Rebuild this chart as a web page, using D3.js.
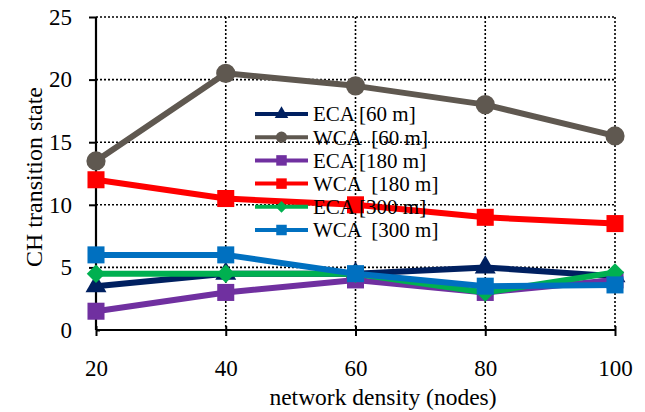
<!DOCTYPE html>
<html><head><meta charset="utf-8">
<script src="https://cdn.jsdelivr.net/npm/d3@7"></script>
<style>body{margin:0;background:#fff}svg{display:block}text{font-family:"Liberation Serif","Times New Roman",serif;fill:#000}</style>
</head><body><svg id="c" width="645" height="412"></svg>
<script>
const xValues = [20, 40, 60, 80, 100];
const yTicks = [0, 5, 10, 15, 20, 25];
const seriesNames = ["ECA [60 m]", "WCA  [60 m]", "ECA [180 m]", "WCA  [180 m]", "ECA [300 m]", "WCA  [300 m]"];
const eca60  = [3.5, 4.5, 4.5, 5.0, 4.3];
const wca60  = [13.5, 20.5, 19.5, 18.0, 15.5];
const eca180 = [1.5, 3.0, 4.0, 3.0, 4.0];
const wca180 = [12.0, 10.5, 10.0, 9.0, 8.5];
const eca300 = [4.5, 4.5, 4.5, 3.0, 4.6];
const wca300 = [6.0, 6.0, 4.5, 3.5, 3.6];
const seriesValues = [eca60, wca60, eca180, wca180, eca300, wca300];
const colors = ["#002060", "#5F5850", "#7030A0", "#FF0000", "#00B050", "#0070C0"];
const shapes = ["triangle", "circle", "square", "square", "diamond", "square"];

const svg = d3.select("#c");
const L = 96, R = 615, T = 17, B = 330;
const x = d3.scaleLinear().domain([20, 100]).range([L, R]);
const y = d3.scaleLinear().domain([0, 25]).range([B, T]);

// grid
const g = svg.append("g");
g.selectAll(".hg").data(yTicks.filter(d => d > 0)).enter().append("line")
  .attr("x1", L).attr("x2", R).attr("y1", d => y(d)).attr("y2", d => y(d))
  .attr("stroke", "#000").attr("stroke-width", 1.6).attr("stroke-dasharray", "2,2");
g.selectAll(".vg").data(xValues.filter(d => d > 20)).enter().append("line")
  .attr("y1", T).attr("y2", B).attr("x1", d => x(d)).attr("x2", d => x(d))
  .attr("stroke", "#000").attr("stroke-width", 1.6).attr("stroke-dasharray", "2,2");

// axes
const yAxis = d3.axisLeft(y).tickValues(yTicks).tickSize(7).tickPadding(17);
const xAxis = d3.axisBottom(x).tickValues(xValues).tickSize(6).tickPadding(24);
const ya = svg.append("g").attr("transform", `translate(${L},0)`).call(yAxis);
const xa = svg.append("g").attr("transform", `translate(0,${B})`).call(xAxis);
[ya, xa].forEach(a => {
  a.select(".domain").attr("stroke", "#000").attr("stroke-width", 2.2);
  a.selectAll(".tick line").attr("stroke", "#000").attr("stroke-width", 2);
  a.selectAll("text").style("font-size", "23px").attr("font-family", "Liberation Serif");
});
ya.select(".domain").attr("d", `M0,${B}V${T}`);
xa.select(".domain").attr("d", `M${L},0H${R}`);
xa.selectAll(".tick line").attr("y1", -4);
ya.selectAll(".tick").filter(d => d === 0).select("line").attr("x2", 4);

// axis titles
svg.append("text").attr("x", 383).attr("y", 405).attr("text-anchor", "middle")
  .style("font-size", "23.5px").text("network density (nodes)");
svg.append("text").attr("transform", "translate(42,177) rotate(-90)").attr("text-anchor", "middle")
  .style("font-size", "24px").text("CH transition state");

function sym(shape, size) {
  if (shape === "circle") return d3.symbol(d3.symbolCircle, size)();
  if (shape === "triangle") return d3.symbol(d3.symbolTriangle, size)();
  return d3.symbol(d3.symbolSquare, size)();
}
const sizes = {circle: 290, triangle: 190, square: 290, diamond: 170};

const line = d3.line().x((d, i) => x(xValues[i])).y(d => y(d));
seriesValues.forEach((vals, si) => {
  const sg = svg.append("g");
  sg.append("path").datum(vals).attr("d", line).attr("fill", "none")
    .attr("stroke", colors[si]).attr("stroke-width", 6).attr("stroke-linejoin", "round");
  sg.selectAll("path.m").data(vals).enter().append("path").attr("class", "m")
    .attr("d", sym(shapes[si], sizes[shapes[si]]))
    .attr("transform", (d, i) => `translate(${x(xValues[i])},${y(d)})` + (shapes[si] === "diamond" ? " rotate(45)" : ""))
    .attr("fill", colors[si]);
});

// legend
const lg = svg.append("g");
const ly0 = 114, ldy = 23.2;
seriesNames.forEach((name, i) => {
  const yy = ly0 + i * ldy;
  lg.append("line").attr("x1", 255).attr("x2", 308).attr("y1", yy).attr("y2", yy)
    .attr("stroke", colors[i]).attr("stroke-width", 4);
  const sz = {circle: 100, triangle: 80, square: 110, diamond: 70}[shapes[i]];
  lg.append("path").attr("d", sym(shapes[i], sz))
    .attr("transform", `translate(281.5,${yy})` + (shapes[i] === "diamond" ? " rotate(45)" : ""))
    .attr("fill", colors[i]);
  lg.append("text").attr("x", 313).attr("y", yy).attr("dy", "0.35em")
    .attr("xml:space", "preserve").style("white-space", "pre")
    .style("font-size", "21px").text(name);
});
</script></body></html>
